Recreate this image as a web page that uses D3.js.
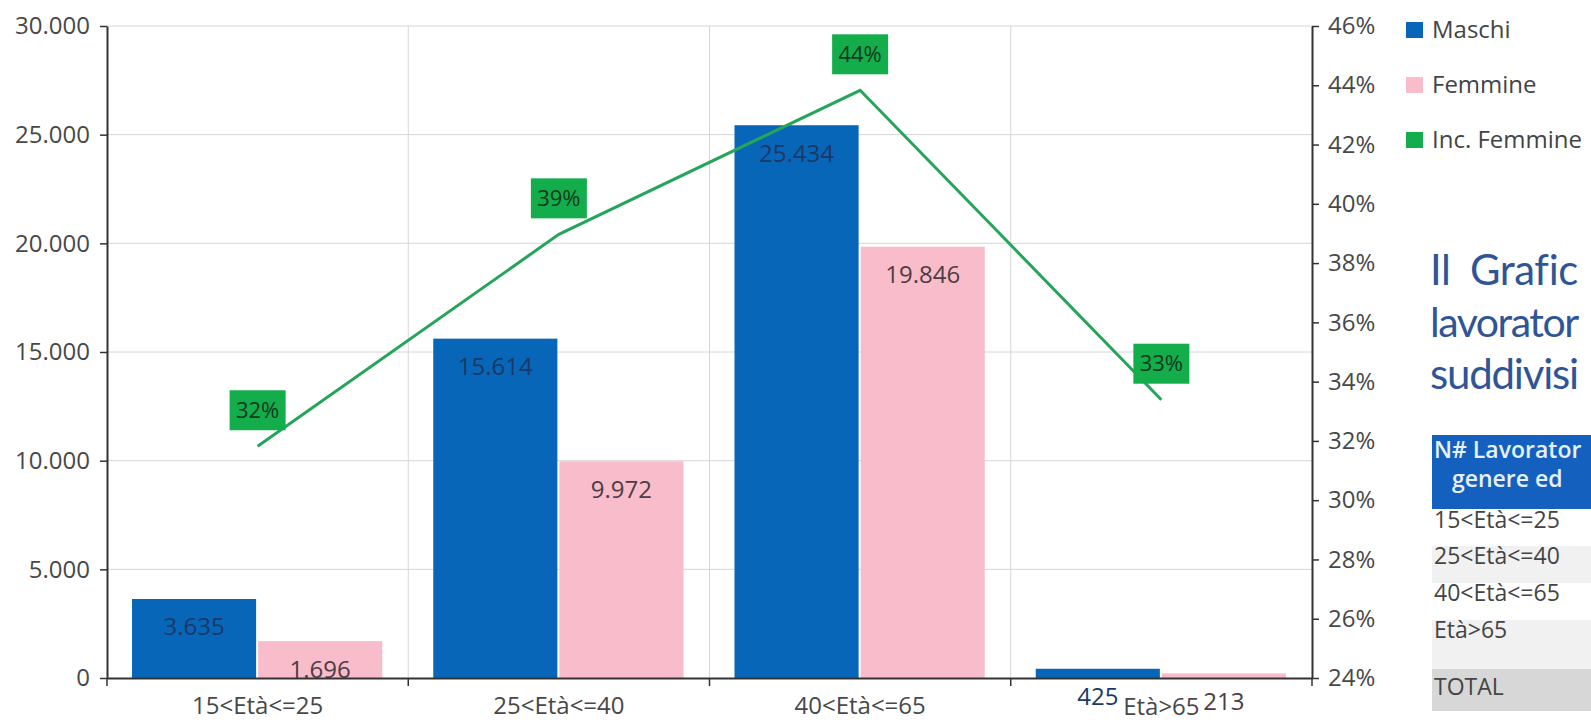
<!DOCTYPE html>
<html>
<head>
<meta charset="utf-8">
<script src="https://cdn.jsdelivr.net/npm/d3@7"></script>
<style>
  html, body { margin: 0; padding: 0; background: #ffffff; overflow: hidden; }
  svg { display: block; font-family: "Open Sans", sans-serif; }
</style>
</head>
<body>
<svg id="chart" width="1591" height="722"></svg>
<script>
// ---- data ----
const categories = ["15<Età<=25", "25<Età<=40", "40<Età<=65", "Età>65"];
const maschi = [3635, 15614, 25434, 425];
const femmine = [1696, 9972, 19846, 213];
const incFemmine = [0.3182, 0.3897, 0.4383, 0.3339];
const seriesNames = ["Maschi", "Femmine", "Inc. Femmine"];
const leftTicks = [0, 5000, 10000, 15000, 20000, 25000, 30000];
const rightTicks = [0.24, 0.26, 0.28, 0.30, 0.32, 0.34, 0.36, 0.38, 0.40, 0.42, 0.44, 0.46];
const descLines = ["Il Grafic", "lavorator", "suddivisi"];
const tableHeader = ["N# Lavorator", "genere ed"];
const tableRows = categories.concat(["TOTAL"]);

// ---- style ----
const colors = { m: "#0866b8", f: "#f9bccb", inc: "#14ad4c", line: "#25a55a" };
const svg = d3.select("#chart");
const W = 1591;
const L = 107, R = 1312, T = 26, B = 678;

const itLocale = d3.formatLocale({ decimal: ",", thousands: ".", grouping: [3], currency: ["€", ""] });
const fmt = itLocale.format(",d");

const x0 = d3.scaleBand().domain(categories).range([L, R]).padding(0);
const x1 = d3.scaleBand().domain(["m", "f"]).range([25, x0.bandwidth() - 26]).paddingInner(0.016);
const y = d3.scaleLinear().domain([0, 30000]).range([B, T]);
const y2 = d3.scaleLinear().domain([0.24, 0.46]).range([B, T]);

// shrink letter spacing (then font size if needed) so a text ends before maxX
function fitRight(sel, maxX) {
  sel.each(function () {
    const x = +this.getAttribute("x");
    let len = this.getComputedTextLength();
    if (x + len > maxX) {
      const n = this.textContent.length;
      const ls = Math.max(-1.5, -(x + len - maxX) / n);
      this.setAttribute("letter-spacing", ls);
      len = this.getComputedTextLength();
      if (x + len > maxX) {
        const fs = parseFloat(this.getAttribute("font-size"));
        this.setAttribute("font-size", fs * (maxX - x) / len);
      }
    }
  });
}

// gridlines
svg.append("g").selectAll("line").data(leftTicks.slice(1)).join("line")
  .attr("x1", L).attr("x2", R).attr("y1", d => y(d)).attr("y2", d => y(d))
  .attr("stroke", "#d6d6d6").attr("stroke-width", 1);
svg.append("g").selectAll("line").data(categories.slice(1)).join("line")
  .attr("x1", d => x0(d)).attr("x2", d => x0(d)).attr("y1", T).attr("y2", B)
  .attr("stroke", "#d6d6d6").attr("stroke-width", 1);

// bars
const groups = svg.append("g").selectAll("g").data(categories).join("g")
  .attr("transform", d => `translate(${x0(d)},0)`);
groups.append("rect")
  .attr("x", x1("m")).attr("width", x1.bandwidth())
  .attr("y", (d, i) => y(maschi[i])).attr("height", (d, i) => B - y(maschi[i]))
  .attr("fill", colors.m);
groups.append("rect")
  .attr("x", x1("f")).attr("width", x1.bandwidth())
  .attr("y", (d, i) => y(femmine[i])).attr("height", (d, i) => B - y(femmine[i]))
  .attr("fill", colors.f);
groups.append("text")
  .attr("x", x1("m") + x1.bandwidth() / 2)
  .attr("y", (d, i) => y(maschi[i]) + 28)
  .attr("dy", "0.35em").attr("text-anchor", "middle")
  .attr("font-size", 24).attr("fill", "#1b3866")
  .text((d, i) => fmt(maschi[i]));
groups.append("text")
  .attr("x", x1("f") + x1.bandwidth() / 2)
  .attr("y", (d, i) => y(femmine[i]) + 28)
  .attr("dy", "0.35em").attr("text-anchor", "middle")
  .attr("font-size", 24).attr("fill", "#4d3c42")
  .text((d, i) => fmt(femmine[i]));

// line
const cx = d => x0(d) + x0.bandwidth() / 2;
const lineGen = d3.line().x((d, i) => cx(categories[i])).y(d => y2(d));
svg.append("path").datum(incFemmine)
  .attr("d", lineGen).attr("fill", "none")
  .attr("stroke", colors.line).attr("stroke-width", 3).attr("stroke-linejoin", "miter");

// line labels
const lab = svg.append("g").selectAll("g").data(incFemmine).join("g")
  .attr("transform", (d, i) => `translate(${cx(categories[i])},${y2(d) - 36})`);
lab.append("rect").attr("x", -28).attr("y", -20).attr("width", 56).attr("height", 40)
  .attr("fill", colors.inc);
lab.append("text").attr("text-anchor", "middle").attr("dy", "0.35em")
  .attr("font-size", 22).attr("fill", "#0e3a1b")
  .text(d => Math.round(d * 100) + "%");

// axes
const axisLeft = svg.append("g").attr("transform", `translate(${L},0)`)
  .call(d3.axisLeft(y).tickValues(leftTicks).tickFormat(fmt).tickSize(7).tickSizeOuter(0).tickPadding(10));
const axisRight = svg.append("g").attr("transform", `translate(${R},0)`)
  .call(d3.axisRight(y2).tickValues(rightTicks).tickFormat(d => Math.round(d * 100) + "%").tickSize(7).tickSizeOuter(0).tickPadding(9));
const axisBottom = svg.append("g").attr("transform", `translate(0,${B})`)
  .call(d3.axisBottom(x0).tickSize(0).tickSizeOuter(0).tickPadding(24));
[axisLeft, axisRight, axisBottom].forEach(g => {
  g.select(".domain").attr("stroke", "#333").attr("stroke-width", 2);
  g.selectAll(".tick line").attr("stroke", "#333").attr("stroke-width", 1.5);
  g.selectAll(".tick text").attr("font-size", 24).attr("fill", "#484848").attr("font-family", "Open Sans, sans-serif");
});
axisBottom.selectAll(".tick text").attr("y", (d, i) => i === categories.length - 1 ? 37 : 36).attr("dy", 0);
svg.append("g").selectAll("line").data(categories.concat([null])).join("line")
  .attr("x1", (d, i) => i < categories.length ? x0(d) : R)
  .attr("x2", (d, i) => i < categories.length ? x0(d) : R)
  .attr("y1", B).attr("y2", B + 8)
  .attr("stroke", "#333").attr("stroke-width", 1.5);

// legend
const legendColors = [colors.m, colors.f, colors.inc];
const leg = svg.append("g").selectAll("g").data(seriesNames).join("g")
  .attr("transform", (d, i) => `translate(1406,${30 + i * 55})`);
leg.append("rect").attr("x", 0).attr("y", -8).attr("width", 17).attr("height", 16)
  .attr("fill", (d, i) => legendColors[i]);
leg.append("text").attr("x", 26).attr("dy", "0.35em").attr("font-size", 24).attr("fill", "#444")
  .text(d => d);

// description text (as visible at the right edge)
const desc = svg.append("g").selectAll("text").data(descLines).join("text")
  .attr("x", 1430).attr("y", (d, i) => 285 + i * 52)
  .attr("font-family", "Lato, sans-serif").attr("font-size", 42).attr("fill", "#2f5597")
  .attr("word-spacing", (d, i) => i === 0 ? 9 : 0)
  .text(d => d);
fitRight(desc, W - 13);

// table
const tx = 1432;
svg.append("rect").attr("x", tx).attr("y", 435).attr("width", W - tx).attr("height", 74).attr("fill", "#1460be");
const hdr = svg.append("g").selectAll("text").data(tableHeader).join("text")
  .attr("x", (d, i) => i === 0 ? tx + 2 : tx + 20)
  .attr("y", (d, i) => 458 + i * 29)
  .attr("font-size", 23).attr("font-weight", 600).attr("fill", "#e6f0fb")
  .text(d => d);
fitRight(hdr, W - 4);
const rowH = [37, 37, 37, 49, 42];
const rowBg = ["#ffffff", "#f1f1f1", "#ffffff", "#f1f1f1", "#d7d7d7"];
let ry = 509;
const rowY = rowH.map(h => { const v = ry; ry += h; return v; });
const rows = svg.append("g").selectAll("g").data(tableRows).join("g");
rows.append("rect").attr("x", tx).attr("y", (d, i) => rowY[i]).attr("width", W - tx)
  .attr("height", (d, i) => rowH[i]).attr("fill", (d, i) => rowBg[i]);
rows.append("text").attr("x", tx + 2).attr("y", (d, i) => [520, 556, 593, 630, 687][i])
  .attr("dy", "0.35em").attr("font-size", 23).attr("fill", "#444")
  .text(d => d);
</script>
</body>
</html>
